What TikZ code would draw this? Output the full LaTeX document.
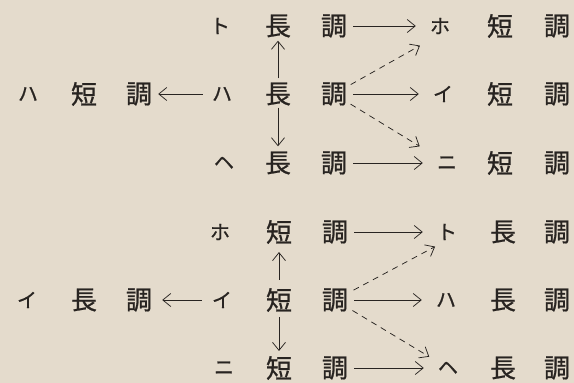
\documentclass[tikz,border=0pt]{standalone}
\usepackage{fontspec}
\newfontfamily\jp{Noto Sans CJK JP}[FakeBold=0.8]
\usetikzlibrary{arrows.meta}
\definecolor{paper}{RGB}{228,219,204}
\definecolor{ink}{RGB}{40,36,33}
\begin{document}
\begin{tikzpicture}[x=1pt,y=-1pt,
  kanji/.style={font=\jp\fontsize{26}{26}\selectfont, text=ink, inner sep=0pt, minimum width=23pt, minimum height=23pt},
  kana/.style={font=\jp\fontsize{20}{20}\selectfont, text=ink, inner sep=0pt, minimum width=14pt, minimum height=14pt},
  arr/.style={draw=ink, line width=0.75pt, -{Straight Barb[length=8pt,width=13pt,line width=0.75pt]}},
  darr/.style={arr, dash pattern=on 6pt off 5pt}]
\fill[paper] (0,0) rectangle (574,383);
% middle column, upper group
\node[kana]  (m1) at (220,26) {ト};
\node[kanji] (a1) at (278,26) {長};
\node[kanji] (c1) at (334,26) {調};
\node[kana]  (m2) at (222,94) {ハ};
\node[kanji] (a2) at (278,94) {長};
\node[kanji] (c2) at (334,94) {調};
\node[kana]  (m3) at (224,163) {ヘ};
\node[kanji] (a3) at (278,163) {長};
\node[kanji] (c3) at (334,163) {調};
% middle column, lower group
\node[kana]  (m4) at (220,232) {ホ};
\node[kanji] (a4) at (279,232) {短};
\node[kanji] (c4) at (335,232) {調};
\node[kana]  (m5) at (222,300) {イ};
\node[kanji] (a5) at (279,300) {短};
\node[kanji] (c5) at (335,300) {調};
\node[kana]  (m6) at (224,368) {ニ};
\node[kanji] (a6) at (279,368) {短};
\node[kanji] (c6) at (335,368) {調};
% right column
\node[kana]  (k1) at (440,26) {ホ};
\node[kanji] (b1) at (500,26) {短};
\node[kanji] (d1) at (557,26) {調};
\node[kana]  (k2) at (443,94) {イ};
\node[kanji] (b2) at (500,94) {短};
\node[kanji] (d2) at (557,94) {調};
\node[kana]  (k3) at (447,163) {ニ};
\node[kanji] (b3) at (500,163) {短};
\node[kanji] (d3) at (557,163) {調};
\node[kana]  (k4) at (447,232) {ト};
\node[kanji] (b4) at (503,232) {長};
\node[kanji] (d4) at (557,232) {調};
\node[kana]  (k5) at (446,300) {ハ};
\node[kanji] (b5) at (503,300) {長};
\node[kanji] (d5) at (557,300) {調};
\node[kana]  (k6) at (448,368) {ヘ};
\node[kanji] (b6) at (503,368) {長};
\node[kanji] (d6) at (557,368) {調};
% left column
\node[kana]  (l1) at (28,94) {ハ};
\node[kanji] (e1) at (84,94) {短};
\node[kanji] (f1) at (139,94) {調};
\node[kana]  (l2) at (27,300) {イ};
\node[kanji] (e2) at (84,300) {長};
\node[kanji] (f2) at (139,300) {調};
% horizontal arrows to the right
\foreach \i in {1,...,6}{
  \draw[arr, shorten <=6pt, shorten >=14pt] (c\i) -- (k\i);
}
% arrows to the left
\draw[arr, shorten <=9pt, shorten >=6pt] (m2) -- (f1);
\draw[arr, shorten <=10pt, shorten >=10pt] (m5) -- (f2);
% vertical arrows
\draw[arr, shorten <=4pt, shorten >=3pt] (a2) -- (a1);
\draw[arr, shorten <=2pt, shorten >=5pt] (a2) -- (a3);
\draw[arr, shorten <=8pt, shorten >=8pt] (a5) -- (a4);
\draw[arr, shorten <=5pt, shorten >=5pt] (a5) -- (a6);
% dashed arrows
\draw[darr, shorten <=4pt, shorten >=23pt] (c2) -- (k1.south);
\draw[darr, shorten <=4pt, shorten >=20pt] (c2) -- (k3);
\draw[darr, shorten <=6pt, shorten >=13.5pt] (c5) -- (k4.south);
\draw[darr, shorten <=5pt, shorten >=10pt] (c5) -- (k6);
\end{tikzpicture}
\end{document}
